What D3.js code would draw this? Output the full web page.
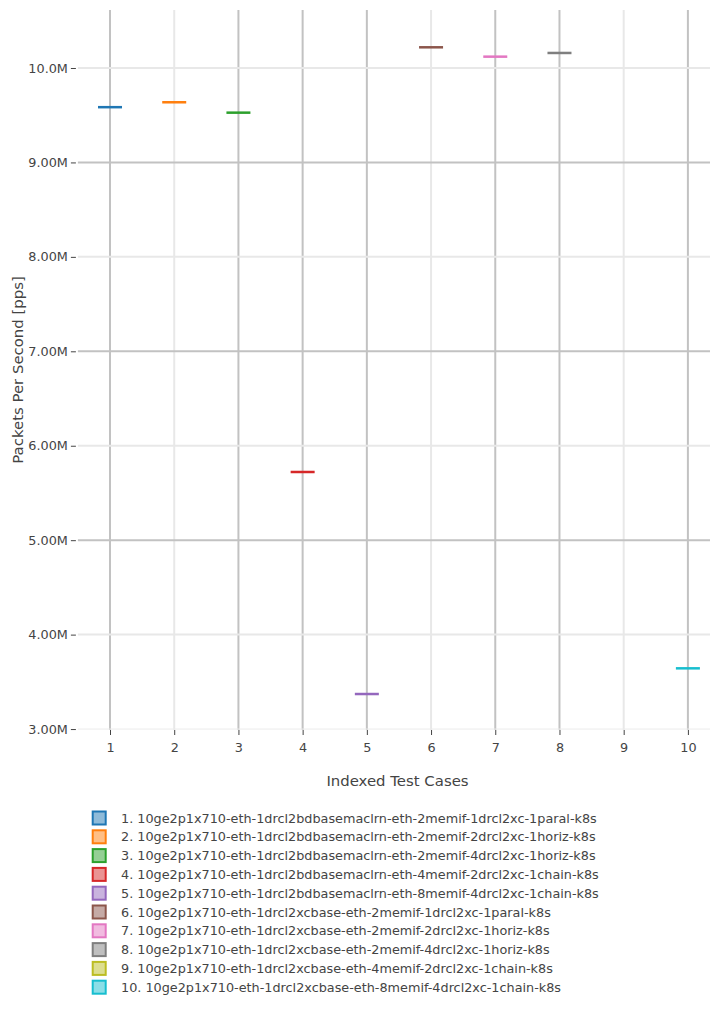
<!DOCTYPE html>
<html><head><meta charset="utf-8">
<script src="https://cdn.jsdelivr.net/npm/d3@7"></script>
<style>body{margin:0;background:#fff}</style>
</head><body><svg id="c" width="710" height="1014"></svg>
<script>
const categories = [1,2,3,4,5,6,7,8,9,10];
const labels = [
 "1. 10ge2p1x710-eth-1drcl2bdbasemaclrn-eth-2memif-1drcl2xc-1paral-k8s",
 "2. 10ge2p1x710-eth-1drcl2bdbasemaclrn-eth-2memif-2drcl2xc-1horiz-k8s",
 "3. 10ge2p1x710-eth-1drcl2bdbasemaclrn-eth-2memif-4drcl2xc-1horiz-k8s",
 "4. 10ge2p1x710-eth-1drcl2bdbasemaclrn-eth-4memif-2drcl2xc-1chain-k8s",
 "5. 10ge2p1x710-eth-1drcl2bdbasemaclrn-eth-8memif-4drcl2xc-1chain-k8s",
 "6. 10ge2p1x710-eth-1drcl2xcbase-eth-2memif-1drcl2xc-1paral-k8s",
 "7. 10ge2p1x710-eth-1drcl2xcbase-eth-2memif-2drcl2xc-1horiz-k8s",
 "8. 10ge2p1x710-eth-1drcl2xcbase-eth-2memif-4drcl2xc-1horiz-k8s",
 "9. 10ge2p1x710-eth-1drcl2xcbase-eth-4memif-2drcl2xc-1chain-k8s",
 "10. 10ge2p1x710-eth-1drcl2xcbase-eth-8memif-4drcl2xc-1chain-k8s"
];
const values = [9.585e6, 9.637e6, 9.527e6, 5.722e6, 3.371e6, 10.219e6, 10.12e6, 10.159e6, null, 3.643e6];
const yTicks = [3e6,4e6,5e6,6e6,7e6,8e6,9e6,10e6];
const yTickLabels = ["3.00M","4.00M","5.00M","6.00M","7.00M","8.00M","9.00M","10.0M"];
const colors = ["#1f77b4","#ff7f0e","#2ca02c","#d62728","#9467bd","#8c564b","#e377c2","#7f7f7f","#bcbd22","#17becf"];

const FONT = "DejaVu Sans";
const FS = 12.8, FT = 14.9;
const svg = d3.select("#c").attr("font-family",FONT);
const L=77.9, R=720, T=10, B=730;
const x = d3.scaleLinear().domain([0.5,10.5]).range([L,R]);
const y = d3.scaleLinear().domain([2.99e6,10.614e6]).range([B,T]);

// grid styles (emulating rendered appearance)
const darkX = new Set([1,3,4,5,7,8,10]);
const darkY = new Set([5e6,7e6,9e6]);
const g = svg.append("g");
categories.forEach(c=>{
  g.append("line").attr("x1",x(c)).attr("x2",x(c)).attr("y1",T).attr("y2",B)
   .attr("stroke",darkX.has(c)?"#c2c2c2":"#e8e8e8").attr("stroke-width",2);
});
yTicks.forEach(v=>{
  if (v===3e6) return;
  g.append("line").attr("x1",L).attr("x2",710).attr("y1",y(v)).attr("y2",y(v))
   .attr("stroke",darkY.has(v)?"#c2c2c2":"#e8e8e8").attr("stroke-width",2);
});
g.append("line").attr("x1",L).attr("x2",710).attr("y1",y(3e6)).attr("y2",y(3e6)).attr("stroke","#ebebeb").attr("stroke-width",1);

// axes
const yAxis = d3.axisLeft(y).tickValues(yTicks).tickFormat((d,i)=>yTickLabels[i]).tickSize(5).tickPadding(3);
const ya = svg.append("g").attr("transform",`translate(${L-2},0)`).call(yAxis);
ya.attr("font-family",FONT).attr("font-size",FS);
ya.select(".domain").remove();
ya.selectAll("line").attr("stroke","#444");
ya.selectAll("text").attr("fill","#444");

const xAxis = d3.axisBottom(x).tickValues(categories).tickSize(5).tickPadding(8);
const xa = svg.append("g").attr("transform",`translate(0,${B})`).call(xAxis);
xa.attr("font-family",FONT).attr("font-size",FS);
xa.select(".domain").remove();
xa.selectAll("line").attr("stroke","#444");
xa.selectAll("text").attr("fill","#444");

// boxes (flat, single-value)
const bw = 24;
values.forEach((v,i)=>{
  if (v==null) return;
  svg.append("rect").attr("x",x(categories[i])-bw/2).attr("y",y(v)-1.25).attr("width",bw).attr("height",2.5)
    .attr("fill",colors[i]);
});

// titles
svg.append("text").attr("x",397.5).attr("y",786).attr("text-anchor","middle")
  .attr("fill","#444").attr("font-size",FT).text("Indexed Test Cases");
svg.append("text").attr("transform",`translate(23,${(T+B)/2}) rotate(-90)`).attr("text-anchor","middle")
  .attr("fill","#444").attr("font-size",FT).text("Packets Per Second [pps]");

// legend
const lg = svg.append("g");
labels.forEach((t,i)=>{
  const cy = 818 + i*18.8;
  lg.append("rect").attr("x",92.7).attr("y",cy-6.5).attr("width",13).attr("height",13)
    .attr("fill",colors[i]).attr("fill-opacity",0.5).attr("stroke",colors[i]).attr("stroke-width",2);
  lg.append("text").attr("x",121).attr("y",cy+4.6).attr("fill","#444").attr("font-size",FS).text(t);
});
</script></body></html>
